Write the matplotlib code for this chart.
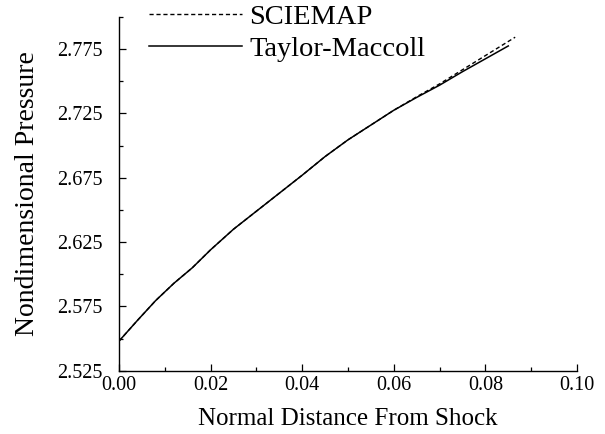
import matplotlib
matplotlib.use('Agg')
import matplotlib.pyplot as plt
from matplotlib.ticker import MultipleLocator, FormatStrFormatter

plt.rcParams['font.family'] = ['Liberation Serif', 'DejaVu Serif']

# Normal distance from shock
x_tm = [0.0, 0.002, 0.004, 0.008, 0.012, 0.016, 0.02, 0.025, 0.03, 0.035, 0.04,
        0.045, 0.05, 0.055, 0.06, 0.065, 0.07, 0.075, 0.08, 0.085]
# Taylor-Maccoll nondimensional pressure
p_tm = [2.548, 2.556, 2.564, 2.5795, 2.593, 2.605, 2.619, 2.635, 2.649, 2.663, 2.677,
        2.6915, 2.7045, 2.716, 2.7275, 2.7375, 2.747, 2.7575, 2.7675, 2.7775]

x_sc = [0.0, 0.002, 0.004, 0.008, 0.012, 0.016, 0.02, 0.025, 0.03, 0.035, 0.04,
        0.045, 0.05, 0.055, 0.06, 0.065, 0.07, 0.075, 0.08, 0.0865]
# SCIEMAP nondimensional pressure
p_sc = [2.548, 2.556, 2.564, 2.5795, 2.593, 2.605, 2.619, 2.635, 2.649, 2.663, 2.677,
        2.6915, 2.7045, 2.716, 2.7275, 2.738, 2.748, 2.759, 2.770, 2.7843]

fig = plt.figure(figsize=(6.05, 4.34), dpi=100)
ax = fig.add_axes([0.1967, 0.1459, 0.757, 0.8149])

ax.plot(x_sc, p_sc, color='black', lw=1.0, ls=(0, (3, 2)), label='SCIEMAP')
ax.plot(x_tm, p_tm, color='black', lw=1.1, ls='-', label='Taylor-Maccoll')

ax.set_xlim(0.0, 0.10)
ax.set_ylim(2.525, 2.80)
ax.xaxis.set_major_locator(MultipleLocator(0.02))
ax.xaxis.set_minor_locator(MultipleLocator(0.01))
ax.yaxis.set_minor_locator(MultipleLocator(0.025))
ax.set_yticks([2.525, 2.575, 2.625, 2.675, 2.725, 2.775])
ax.xaxis.set_major_formatter(FormatStrFormatter('%.2f'))
ax.yaxis.set_major_formatter(FormatStrFormatter('%.3f'))

for s in ['top', 'right']:
    ax.spines[s].set_visible(False)
for s in ['left', 'bottom']:
    ax.spines[s].set_linewidth(1.0)

ax.tick_params(which='both', direction='in', labelsize=14.5, width=0.9)
ax.tick_params(which='major', length=5)
ax.tick_params(which='minor', length=3)
ax.tick_params(axis='y', which='major', pad=12)
ax.tick_params(axis='x', which='major', pad=4)

ax.set_xlabel('Normal Distance From Shock', fontsize=18, labelpad=9)
ax.set_ylabel('Nondimensional Pressure', fontsize=20, labelpad=12)

ax.legend(loc='upper left', bbox_to_anchor=(0.218, 1.03), bbox_transform=fig.transFigure,
          frameon=False, fontsize=20.5, handlelength=3.25, handletextpad=0.28,
          labelspacing=0.22, borderpad=0.1)

fig.savefig('out.png', dpi=100)
